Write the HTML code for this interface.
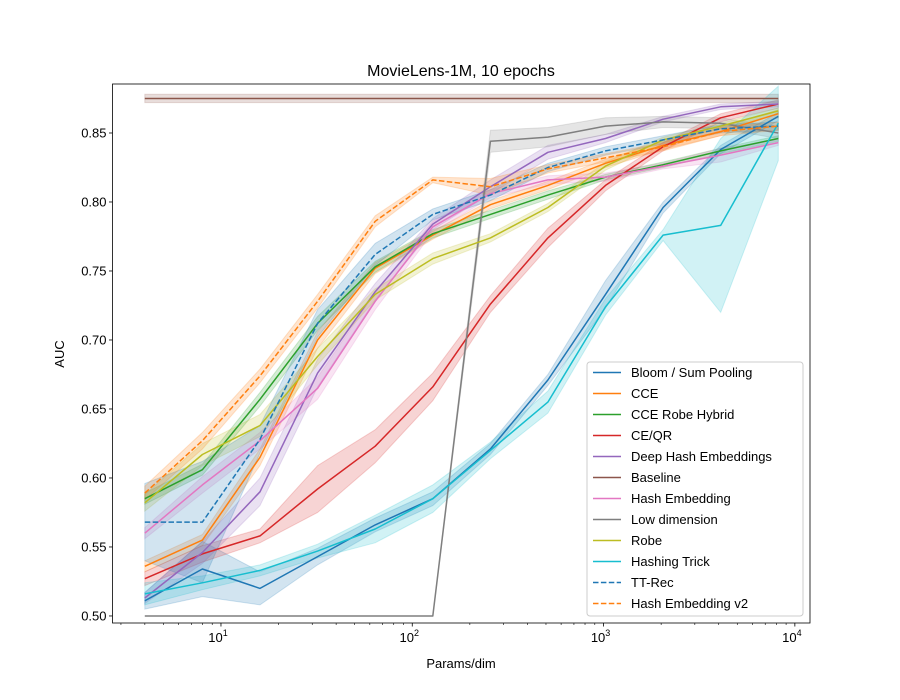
<!DOCTYPE html>
<html><head><meta charset="utf-8"><style>
body{margin:0;background:#fff}
svg{display:block;font-family:"Liberation Sans","DejaVu Sans",sans-serif}
</style></head><body>
<svg id="chart" width="900" height="700" viewBox="0 0 900 700">
<defs><clipPath id="plotclip"><rect x="112.5" y="84" width="697.5" height="539"/></clipPath></defs>
<rect width="900" height="700" fill="#fff"/>
<text x="461" y="76" font-size="16" text-anchor="middle">MovieLens-1M, 10 epochs</text>
<text x="461" y="668" font-size="13" text-anchor="middle">Params/dim</text>
<text x="0" y="0" font-size="13" text-anchor="middle" transform="translate(64,354) rotate(-90)">AUC</text>
<g id="bands" clip-path="url(#plotclip)"></g>
<g id="lines" clip-path="url(#plotclip)"></g>
<g id="axes"></g>
<g id="legend"></g>
</svg>
<script>
const xs = [4,8,16,32,64,128,256,512,1024,2048,4096,8192];
const names = ["Bloom / Sum Pooling","CCE","CCE Robe Hybrid","CE/QR","Deep Hash Embeddings","Baseline","Hash Embedding","Low dimension","Robe","Hashing Trick","TT-Rec","Hash Embedding v2"];
const colors = ["#1f77b4","#ff7f0e","#2ca02c","#d62728","#9467bd","#8c564b","#e377c2","#7f7f7f","#bcbd22","#17becf","#1f77b4","#ff7f0e"];
const dashed = [false,false,false,false,false,false,false,false,false,false,true,true];
const bloom = [0.511,0.534,0.520,0.543,0.566,0.585,0.621,0.671,0.733,0.796,0.838,0.862];
const cce = [0.536,0.555,0.615,0.700,0.752,0.776,0.798,0.812,0.828,0.841,0.851,0.864];
const cceRobe = [0.585,0.606,0.657,0.712,0.753,0.777,0.791,0.805,0.818,0.827,0.837,0.846];
const ceqr = [0.527,0.545,0.558,0.592,0.623,0.666,0.726,0.774,0.812,0.840,0.861,0.871];
const deepHash = [0.513,0.546,0.590,0.676,0.735,0.784,0.811,0.836,0.846,0.860,0.869,0.871];
const baseline = [0.875,0.875,0.875,0.875,0.875,0.875,0.875,0.875,0.875,0.875,0.875,0.875];
const hashEmb = [0.560,0.595,0.627,0.665,0.728,0.782,0.806,0.816,0.818,0.826,0.834,0.843];
const lowDim = [0.500,0.500,0.500,0.500,0.500,0.500,0.844,0.847,0.855,0.858,0.857,0.850];
const robe = [0.582,0.617,0.638,0.688,0.733,0.759,0.774,0.796,0.826,0.845,0.855,0.866];
const hashTrick = [0.516,0.524,0.533,0.547,0.563,0.585,0.620,0.655,0.724,0.776,0.783,0.857];
const ttrec = [0.568,0.568,0.628,0.712,0.762,0.791,0.805,0.825,0.837,0.845,0.853,0.855];
const hashEmbV2 = [0.589,0.627,0.674,0.728,0.786,0.816,0.811,0.824,0.832,0.840,0.851,0.855];
const bloomSpread = [0.006,0.020,0.012,0.006,0.005,0.005,0.004,0.004,0.010,0.004,0.003,0.003];
const cceSpread = [0.004,0.004,0.006,0.006,0.004,0.003,0.003,0.003,0.003,0.003,0.003,0.003];
const cceRobeSpread = [0.004,0.004,0.005,0.005,0.004,0.003,0.003,0.003,0.002,0.002,0.002,0.002];
const ceqrSpread = [0.005,0.006,0.005,0.017,0.012,0.010,0.006,0.007,0.004,0.003,0.003,0.003];
const deepHashSpread = [0.004,0.008,0.010,0.010,0.006,0.004,0.005,0.005,0.003,0.002,0.002,0.002];
const baselineSpread = [0.003,0.003,0.003,0.003,0.003,0.003,0.003,0.003,0.003,0.003,0.003,0.003];
const hashEmbSpread = [0.004,0.006,0.006,0.008,0.006,0.004,0.003,0.003,0.003,0.002,0.005,0.002];
const lowDimSpread = [0,0,0,0,0,0,0.008,0.007,0.006,0.004,0.004,0.004];
const robeSpread = [0.006,0.008,0.008,0.006,0.004,0.004,0.003,0.003,0.003,0.002,0.002,0.002];
const hashTrickSpread = [0.008,0.005,0.004,0.005,0.010,0.010,0.006,0.008,0.006,0.004,0.063,0.027];
const ttrecSpread = [0.028,0.044,0.010,0.010,0.008,0.004,0.004,0.003,0.003,0.003,0.003,0.003];
const hashEmbV2Spread = [0.005,0.006,0.005,0.005,0.004,0.002,0.006,0.003,0.003,0.003,0.003,0.003];
const yTicks = [0.50,0.55,0.60,0.65,0.70,0.75,0.80,0.85];
const yTickLabels = ["0.50","0.55","0.60","0.65","0.70","0.75","0.80","0.85"];
const xMajor = [10,100,1000,10000];
const xMajorLabels = ["1","2","3","4"];

const series=[bloom,cce,cceRobe,ceqr,deepHash,baseline,hashEmb,lowDim,robe,hashTrick,ttrec,hashEmbV2];
const spreads=[bloomSpread,cceSpread,cceRobeSpread,ceqrSpread,deepHashSpread,baselineSpread,hashEmbSpread,lowDimSpread,robeSpread,hashTrickSpread,ttrecSpread,hashEmbV2Spread];
const L=112.5,R=810,T=84,B=623;
const xmin=Math.log10(2.71),xmax=Math.log10(12000);
const ymin=0.4949,ymax=0.8855;
const X=v=>L+(Math.log10(v)-xmin)/(xmax-xmin)*(R-L);
const Y=v=>B-(v-ymin)/(ymax-ymin)*(B-T);
const NS="http://www.w3.org/2000/svg";
function mk(tag,attrs,parent){const e=document.createElementNS(NS,tag);for(const k in attrs)e.setAttribute(k,attrs[k]);parent.appendChild(e);return e;}
const gB=document.getElementById('bands'),gL=document.getElementById('lines'),gA=document.getElementById('axes'),gLeg=document.getElementById('legend');
series.forEach((s,i)=>{
  const sp=spreads[i];
  let up=xs.map((x,j)=>X(x).toFixed(1)+','+Y(s[j]+sp[j]).toFixed(1));
  let dn=xs.map((x,j)=>X(x).toFixed(1)+','+Y(s[j]-sp[j]).toFixed(1)).reverse();
  const b=mk('polygon',{points:up.concat(dn).join(' '),fill:colors[i],'fill-opacity':0.2,stroke:colors[i],'stroke-opacity':0.2,'stroke-width':1},gB);
  
  
  const pl=mk('polyline',{points:xs.map((x,j)=>X(x).toFixed(1)+','+Y(s[j]).toFixed(1)).join(' '),fill:'none',stroke:colors[i],'stroke-width':1.5,'stroke-linejoin':'round'},gL);
  if(dashed[i])pl.setAttribute('stroke-dasharray','5.5,2.4');
  
  
});
const fr=mk('rect',{x:L,y:T,width:R-L,height:B-T,fill:'none',stroke:'#000','stroke-width':0.8},gA);


yTicks.forEach((v,i)=>{
  const y=Y(v);
  const t=mk('line',{x1:L-3.5,x2:L,y1:y,y2:y,stroke:'#000','stroke-width':0.8},gA);
  
  
  const tx=mk('text',{x:L-6,y:y+4.5,'font-size':13,'text-anchor':'end'},gA);
  tx.textContent=yTickLabels[i];
  
  
});
for(let d=0;d<5;d++){for(let m=1;m<10;m++){const v=m*Math.pow(10,d);if(v<2.71||v>12000)continue;
  if(m===1)continue;const x=X(v);
  const t=mk('line',{x1:x,x2:x,y1:B,y2:B+2,stroke:'#000','stroke-width':0.6},gA);
  
  }}
xMajor.forEach((v,i)=>{
  const x=X(v);
  const t=mk('line',{x1:x,x2:x,y1:B,y2:B+3.5,stroke:'#000','stroke-width':0.8},gA);
  
  
  const tx=mk('text',{x:x-3,y:B+19,'font-size':13,'text-anchor':'middle'},gA);
  tx.textContent='10';
  const ts=mk('tspan',{dy:-6,'font-size':9},tx);ts.textContent=xMajorLabels[i];
  
  
});
const lb=mk('rect',{x:587,y:362,width:216,height:254,rx:3,fill:'#fff','fill-opacity':0.8,stroke:'#ccc','stroke-width':1},gLeg);


names.forEach((n,i)=>{
  const y=372.5+i*21;
  const ln=mk('line',{x1:593,x2:621,y1:y,y2:y,stroke:colors[i],'stroke-width':1.5},gLeg);
  if(dashed[i])ln.setAttribute('stroke-dasharray','5.5,2.4');
  
  
  const tx=mk('text',{x:631,y:y+4.5,'font-size':13},gLeg);
  tx.textContent=n;
  
  
});
</script>
</body></html>
